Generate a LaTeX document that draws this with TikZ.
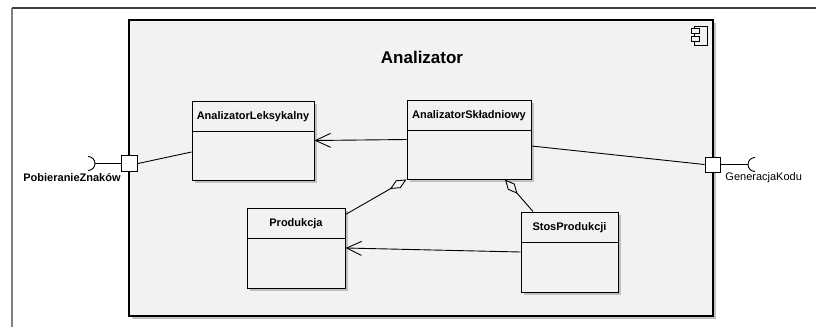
\documentclass[tikz,border=0pt]{standalone}
\usepackage{fontspec}
\setmainfont{Liberation Sans}
\usepackage{tikz}
\usetikzlibrary{positioning,arrows.meta,calc,shadows}
\definecolor{compfill}{HTML}{F2F2F2}
\definecolor{shade}{HTML}{C0C0C0}

\begin{document}
\begin{tikzpicture}[x=1pt, y=-1pt, line width=0.9pt,
  sh/.style={drop shadow={shadow xshift=3pt, shadow yshift=-3pt, fill=shade, opacity=1}},
  cls/.style={draw, line width=1pt, fill=compfill, inner sep=0pt, sh},
  hdr/.style={font=\bfseries\fontsize{11}{13}\selectfont, inner sep=0pt},
  port/.style={draw, line width=1pt, fill=white, inner sep=0pt, minimum size=16pt},
  assoc/.style={-{Straight Barb[length=15pt,width=14pt]}},
  aggr/.style={{Diamond[open,length=19pt,width=9pt]}-}]
  \useasboundingbox (0,0) rectangle (816,327);
  % frame of the diagram
  \draw[line width=1.5pt, gray] (12,8) -- (12,327);
  \draw[line width=1.5pt, darkgray] (12,8) -- (816,8);

  % component
  \node[draw, line width=1.2pt, fill=compfill, sh, minimum width=584pt, minimum height=296pt] (analizator) at (421,168) {};
  \node[font=\bfseries\fontsize{17}{20}\selectfont] (title) at (422,57) {Analizator};
  \draw[line width=1pt] (694,26) rectangle (707,45);
  \draw[line width=1pt, fill=compfill] (691,28) rectangle (699,33);
  \draw[line width=1pt, fill=compfill] (691,36) rectangle (699,41);

  % classes
  \foreach \n/\x/\y/\w/\h/\t in {lex/253/140.5/122/79/AnalizatorLeksykalny,
      skl/469/139.5/124/79/AnalizatorSkładniowy,
      prod/296/248/98/80/Produkcja,
      stos/569.5/252/97/80/StosProdukcji} {
    \node[cls, minimum width=\w pt, minimum height=\h pt] (\n) at (\x,\y) {};
    \node[hdr] (\n-name) at ($(\n.north)+(0,16)$) {\t};
    \draw[line width=1pt] ($(\n.north west)+(0,31)$) -- ($(\n.north east)+(0,31)$);
  }

  % ports
  \node[port] (lport) at (129.5,163.5) {};
  \node[port, minimum size=15pt] (rport) at (712.5,164.5) {};
  \coordinate (lsock) at (95,163.5);
  \coordinate (rsock) at (748,164.5);
  \draw (lport.west) -- (lsock);
  \draw ($(lsock)+(-7,-7)$) arc[start angle=90, end angle=-90, radius=7pt];
  \draw (rport.east) -- (rsock);
  \draw ($(rsock)+(7,-7)$) arc[start angle=90, end angle=270, radius=7pt];
  \node[hdr] (lport-name) at (72,178) {PobieranieZnaków};
  \node[font=\fontsize{11}{13}\selectfont, inner sep=0pt, anchor=west] (rport-name) at (725,178) {GeneracjaKodu};

  % connectors
  \draw (lport.east) -- ([yshift=-11.5pt]lex.west);
  \draw (rport.west) -- ([yshift=-6.5pt]skl.east);
  \draw[assoc] (skl.west) -- (lex.east);
  \draw[assoc] (stos.west) -- (prod.east);
  \draw[aggr] (skl.south west) -- ([yshift=-7pt]prod.north east);
  \draw[aggr] ([xshift=36pt]skl.south) -- ([xshift=-36.5pt]stos.north);
\end{tikzpicture}
\end{document}
